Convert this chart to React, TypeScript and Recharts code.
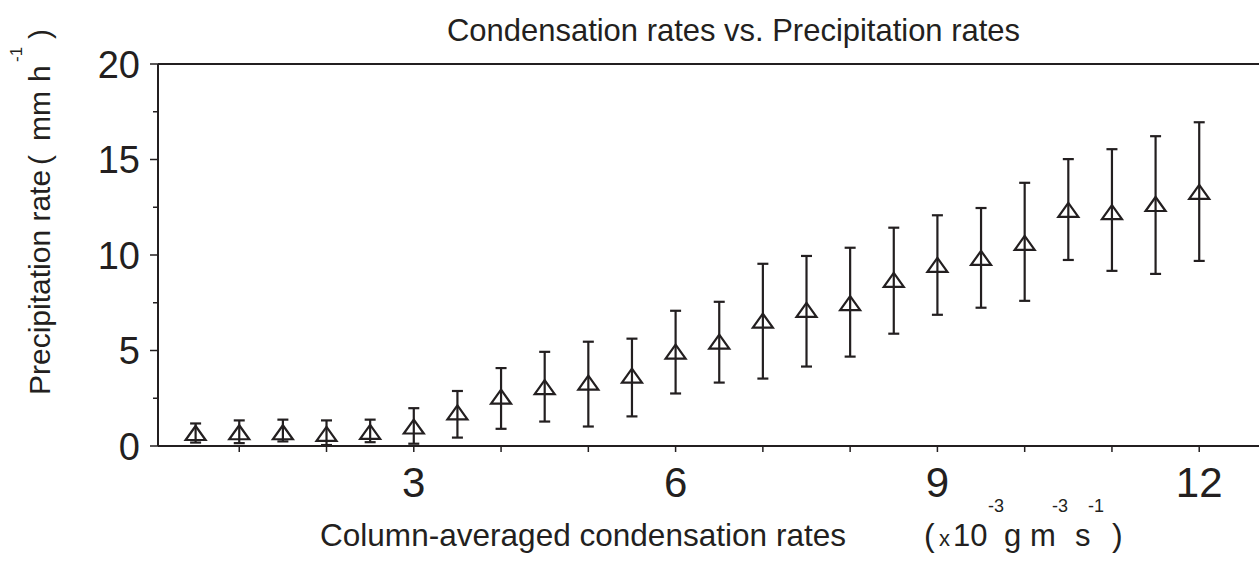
import React from 'react';
import { ScatterChart, Scatter, XAxis, YAxis, ErrorBar, ReferenceLine } from 'recharts';

const INK = '#231f20';
const FONT = "'Liberation Sans', Arial, Helvetica, sans-serif";

// condensation rate (x 10^-3 g m^-3 s^-1)
const condensation = [0.5, 1.0, 1.5, 2.0, 2.5, 3.0, 3.5, 4.0, 4.5, 5.0, 5.5, 6.0, 6.5, 7.0, 7.5, 8.0, 8.5, 9.0, 9.5, 10.0, 10.5, 11.0, 11.5, 12.0];
// mean precipitation rate (mm h^-1)
const precipitation = [0.68, 0.72, 0.72, 0.64, 0.74, 1.02, 1.76, 2.58, 3.08, 3.32, 3.68, 4.94, 5.46, 6.56, 7.13, 7.48, 8.7, 9.48, 9.85, 10.63, 12.36, 12.25, 12.67, 13.3];
// lower and upper bounds of the error bars
const lowerBound = [0.18, 0.15, 0.24, 0.05, 0.2, 0.12, 0.44, 0.9, 1.28, 1.02, 1.55, 2.75, 3.32, 3.53, 4.16, 4.68, 5.88, 6.87, 7.24, 7.6, 9.74, 9.17, 9.01, 9.69];
const upperBound = [1.18, 1.34, 1.38, 1.34, 1.38, 1.98, 2.88, 4.08, 4.93, 5.46, 5.62, 7.08, 7.55, 9.54, 9.95, 10.38, 11.43, 12.08, 12.46, 13.78, 15.02, 15.54, 16.22, 16.95];

const xTicks = [1, 2, 3, 4, 5, 6, 7, 8, 9, 10, 11, 12];
const xLabelled = [3, 6, 9, 12];
const yTicks = [0, 2.5, 5, 7.5, 10, 12.5, 15, 17.5, 20];
const yLabelled = [0, 5, 10, 15, 20];

const data = condensation.map((x, i) => ({
  x,
  y: precipitation[i],
  err: [precipitation[i] - lowerBound[i], upperBound[i] - precipitation[i]],
}));

const Triangle = (props: any) => {
  const { cx, cy } = props;
  if (cx == null || cy == null) return null;
  const d = `M${cx},${cy - 7} L${cx - 10},${cy + 7} L${cx + 10},${cy + 7} Z`;
  return <path d={d} fill="none" stroke={INK} strokeWidth={2.2} strokeLinejoin="miter" />;
};

const YTick = (props: any) => {
  const { x, y, payload } = props;
  const v = payload.value;
  const major = yLabelled.includes(v);
  return (
    <g>
      <line x1={major ? x : x + 3} x2={x + 8} y1={y} y2={y} stroke={INK} strokeWidth={1.5} />
      {major && (
        <text x={x - 10} y={y} dy="0.36em" textAnchor="end" fontSize={38} fill={INK} fontFamily={FONT}>
          {v}
        </text>
      )}
    </g>
  );
};

const XTick = (props: any) => {
  const { x, y, payload } = props;
  const v = payload.value;
  const labelled = xLabelled.includes(v);
  return (
    <g>
      <line x1={x} x2={x} y1={y - 6} y2={y} stroke={INK} strokeWidth={1.5} />
      {labelled && (
        <text x={x} y={y + 45} textAnchor="middle" fontSize={42} fill={INK} fontFamily={FONT}>
          {v}
        </text>
      )}
    </g>
  );
};

export default function App() {
  return (
    <div style={{ position: 'absolute', left: 0, top: 0, width: 1259, height: 562, background: '#fff' }}>
      <ScatterChart width={1259} height={562} margin={{ top: 64, right: 0, left: 0, bottom: 0 }}>
        <XAxis
          type="number"
          dataKey="x"
          domain={[0.069, 12.685]}
          allowDataOverflow
          ticks={xTicks}
          tick={<XTick />}
          tickLine={false}
          tickSize={6}
          tickMargin={0}
          height={116}
          axisLine={{ stroke: INK, strokeWidth: 2 }}
          interval={0}
        />
        <YAxis
          type="number"
          dataKey="y"
          domain={[0, 20]}
          ticks={yTicks}
          tick={<YTick />}
          tickLine={false}
          tickSize={8}
          tickMargin={0}
          width={158}
          axisLine={{ stroke: INK, strokeWidth: 2 }}
          interval={0}
        />
        <ReferenceLine y={20} stroke={INK} strokeWidth={2} ifOverflow="visible" />
        <Scatter data={data} shape={<Triangle />} isAnimationActive={false}>
          <ErrorBar dataKey="err" direction="y" width={5.5} stroke={INK} strokeWidth={2.2} isAnimationActive={false} />
        </Scatter>
      </ScatterChart>
      <svg
        width={1259}
        height={562}
        style={{ position: 'absolute', left: 0, top: 0, pointerEvents: 'none' }}
        fontFamily={FONT}
        fill={INK}
      >
        <text x={447} y={41} fontSize={32} textLength={573} lengthAdjust="spacingAndGlyphs">
          Condensation rates vs. Precipitation rates
        </text>
        <g transform="translate(50, 395) rotate(-90)">
          <text x={0} y={0} fontSize={30}>Precipitation rate</text>
          <text x={230} y={0} fontSize={30}>(</text>
          <text x={254} y={0} fontSize={30}>mm</text>
          <text x={313} y={0} fontSize={30}>h</text>
          <text x={333} y={-28} fontSize={17}>-1</text>
          <text x={356} y={0} fontSize={30}>)</text>
        </g>
        <text x={320} y={546} fontSize={32} textLength={526} lengthAdjust="spacingAndGlyphs">
          Column-averaged condensation  rates
        </text>
        <text x={924} y={546} fontSize={32}>(</text>
        <text x={939} y={546} fontSize={22}>x</text>
        <text x={953} y={546} fontSize={31}>10</text>
        <text x={988} y={512} fontSize={18}>-3</text>
        <text x={1004} y={546} fontSize={31}>g</text>
        <text x={1030} y={546} fontSize={31}>m</text>
        <text x={1052} y={512} fontSize={18}>-3</text>
        <text x={1075} y={546} fontSize={31}>s</text>
        <text x={1088} y={512} fontSize={18}>-1</text>
        <text x={1112} y={546} fontSize={32}>)</text>
      </svg>
    </div>
  );
}
